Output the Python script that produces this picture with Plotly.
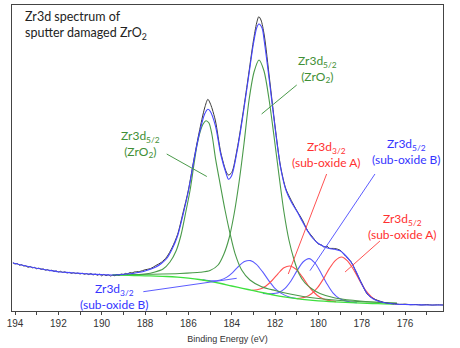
import plotly.graph_objects as go

# ---------------- data (binding energy in eV, intensity in arbitrary units) ----------------
raw_be = [194.1, 194.0, 193.9, 193.8, 193.7, 193.6, 193.5, 193.4, 193.3, 193.2, 193.1, 193.0,
          192.9, 192.8, 192.7, 192.6, 192.5, 192.4, 192.3, 192.2, 192.1, 192.0, 191.9, 191.8,
          191.7, 191.6, 191.5, 191.4, 191.3, 191.2, 191.1, 191.0, 190.9, 190.8, 190.7, 190.6,
          190.5, 190.4, 190.3, 190.2, 190.1, 190.0, 189.9, 189.8, 189.7, 189.6, 189.5, 189.4,
          189.3, 189.2, 189.1, 189.0, 188.9, 188.8, 188.7, 188.6, 188.5,
          188.25, 188.0, 187.75, 187.5, 187.25, 187.0, 186.75, 186.5, 186.25, 186.0, 185.75,
          185.5, 185.25, 185.1, 185.0, 184.9, 184.75, 184.5, 184.25, 184.15, 184.0, 183.75,
          183.5, 183.25, 183.0, 182.85, 182.75, 182.65, 182.5, 182.25, 182.0, 181.75, 181.5,
          181.25, 181.0, 180.75, 180.5, 180.25, 180.0, 179.85, 179.75, 179.6, 179.5, 179.25,
          179.0, 178.75, 178.5, 178.25, 178.0, 177.75, 177.5, 177.25, 177.0, 176.75, 176.5,
          176.25, 176.0, 175.75, 175.5, 175.25, 175.0, 174.75, 174.5, 174.25]
raw_int = [48.5, 47.0, 47.5, 45.8, 46.4, 45.0, 45.2, 43.7, 44.5, 43.2, 43.6, 42.2,
           42.9, 41.7, 42.1, 40.8, 41.4, 40.2, 40.8, 39.6, 40.1, 39.0, 39.7, 38.6,
           39.2, 38.0, 38.7, 37.6, 38.3, 37.4, 38.0, 37.0, 37.8, 36.7, 37.4, 36.4,
           37.5, 36.0, 37.0, 35.7, 36.8, 35.2, 36.6, 35.4, 36.2, 35.0, 35.8, 35.3,
           36.4, 35.9, 37.0, 36.5, 37.6, 37.2, 38.4, 38.0, 39.0,
           39.5, 41.2, 42.4, 45.5, 48.6, 54.0, 63.5, 76.5, 98, 121, 151,
           179, 203, 211.7, 208, 202, 190, 158, 139, 136, 138.5, 162,
           195, 232, 270, 288, 294.3, 291, 276, 231, 185, 145, 122,
           110.5, 100.5, 91.5, 80.5, 73.5, 67, 66, 64, 64.8, 62.8, 62.5,
           60.8, 55, 49.5, 38.5, 27.5, 17, 12.8, 10.5, 8.8, 7.6, 7.2,
           6.6, 6.9, 6.3, 6.5, 6.0, 6.4, 5.9, 6.2, 6.0]

env_be = [194.1, 193.5, 193.0, 192.5, 192.0, 191.5, 191.0, 190.5, 190.0, 189.75, 189.5, 189.25,
          189.0, 188.75, 188.5, 188.25, 188.0, 187.75, 187.5, 187.25, 187.0, 186.75, 186.5,
          186.25, 186.0, 185.75, 185.5, 185.25, 185.1, 185.0, 184.75, 184.5, 184.25, 184.15,
          184.0, 183.75, 183.5, 183.25, 183.0, 182.85, 182.75, 182.6, 182.5, 182.25, 182.0,
          181.75, 181.5, 181.25, 181.0, 180.75, 180.5, 180.25, 180.0, 179.75, 179.5, 179.25,
          179.0, 178.75, 178.5, 178.25, 178.0, 177.75, 177.5, 177.25, 177.0, 176.5, 176.0,
          175.5, 175.0, 174.5, 174.25]
env_int = [48, 45, 42.8, 41, 39.3, 38.4, 37.6, 36.9, 36.4, 36.1, 36.0, 36.2,
           36.7, 37.2, 37.7, 38.7, 40.0, 41.7, 44.0, 47.5, 52.5, 62, 75,
           96, 120, 150, 177, 197, 201.7, 200, 185, 156, 137, 131.7,
           135.5, 160, 193, 230, 267, 283, 287, 283, 270, 228, 183,
           144, 121, 109, 100, 90, 80, 72.5, 67.5, 64.5, 62.5, 61.7,
           60.2, 55.5, 49, 39, 27, 17.5, 12.5, 10, 8.5, 7, 6.5,
           6.2, 6, 6, 6]

bg_be = [189.5, 189.0, 188.5, 188.0, 187.5, 187.0, 186.5, 186.0, 185.5, 185.0, 184.5, 184.0,
         183.5, 183.0, 182.5, 182.0, 181.5, 181.0, 180.5, 180.0, 179.5, 179.0, 178.5, 178.0,
         177.5, 177.0, 176.5]
bg_int = [36.0, 35.8, 35.5, 35.2, 34.9, 34.5, 33.8, 32.8, 31.5, 29.7, 27.5, 25.0,
          22.7, 20.3, 18.0, 15.7, 13.8, 12.3, 11.1, 10.2, 9.5, 8.9, 8.4, 7.9,
          7.5, 7.2, 7.0]

zro2_52_be = [189.48, 187.77, 186.39, 185.46, 185.0, 184.63, 184.36, 184.12, 183.89, 183.66,
              183.43, 183.2, 182.97, 182.74, 182.51, 182.28, 182.05, 181.82, 181.59, 181.36,
              181.12, 180.89, 180.62, 180.29, 179.93, 179.23, 178.31, 177.16, 176.37]
zro2_52_int = [36, 36.7, 37.5, 38.7, 40.5, 46, 57, 73, 97, 129,
               168, 211, 239, 251, 240, 212, 175, 136, 99, 71,
               51, 37, 28, 22, 17.5, 13, 10.5, 8.5, 7.5]

zro2_32_be = [189.48, 188.69, 188.0, 187.54, 187.17, 186.85, 186.57, 186.34, 186.11, 185.92,
              185.74, 185.6, 185.46, 185.32, 185.19, 185.05, 184.91, 184.74, 184.54, 184.31,
              184.08, 183.85, 183.54, 183.16, 182.62, 182.0, 181.31, 180.39, 179.0, 177.62,
              176.37]
zro2_32_int = [36, 36.2, 37, 39, 42, 49, 60, 76, 100, 121,
               147, 166, 179, 187, 190.3, 188, 176, 151.3, 127.7, 101,
               77.7, 57.7, 41, 31, 24.3, 20.5, 17, 13.5, 10.5, 9,
               8]

subA_52_be = [181.01, 180.59, 180.32, 180.04, 179.76, 179.49, 179.21, 178.93, 178.66, 178.38,
              178.10, 177.83, 177.55, 177.27, 176.86, 176.42]
subA_52_int = [12.4, 14, 17.3, 23.4, 32.4, 42.6, 50.7, 54, 50.1, 41.5,
               30.6, 20.9, 14.2, 10.2, 7.7, 7.1]

subA_32_be = [183.06, 182.69, 182.42, 182.14, 181.86, 181.59, 181.31, 181.03, 180.76, 180.48,
              180.2, 179.93, 179.56, 179.19]
subA_32_int = [20.6, 21.9, 25, 30.5, 37.4, 43.2, 45, 41.8, 34.6, 25.7,
               18.5, 13.7, 10.6, 9.4]

subB_52_be = [182.56, 182.19, 181.82, 181.54, 181.26, 180.99, 180.71, 180.43, 180.16, 179.88,
              179.6, 179.33, 179.05, 178.68, 178.22]
subB_52_int = [17.5, 17.3, 18.6, 22.7, 30.3, 40.1, 49, 52.4, 48, 38.1,
               27, 18.1, 12.7, 9.6, 8.2]

subB_32_be = [185.35, 184.89, 184.52, 184.24, 183.96, 183.69, 183.41, 183.13, 182.86, 182.58,
              182.3, 182.03, 181.75, 181.38, 180.92]
subB_32_int = [31.1, 30.1, 31, 33.6, 38.4, 44.5, 49.4, 50.4, 46.7, 39.3,
               30.7, 23.2, 18.1, 14.3, 12.2]

tick_vals = [194, 192, 190, 188, 186, 184, 182, 180, 178, 176]
tick_text = ["194", "192", "190", "188", "186", "184", "182", "180", "178", "176"]

# ---------------- styling ----------------
C_RAW = "#3a3a3a"
C_ENV = "#4646ff"
C_ZRO2 = "#4a9a4a"
C_BG = "#3ee03e"
C_RED = "#ff5252"
C_BLUE = "#5c5cff"
T_GREEN = "#3f8f35"
T_RED = "#ff3030"
T_BLUE = "#3535ff"

fig = go.Figure()


def add_line(x, y, color, width=1.1):
    fig.add_trace(go.Scatter(x=x, y=y, mode="lines",
                             line=dict(color=color, width=width, shape="spline", smoothing=0.8),
                             hoverinfo="skip", showlegend=False))


add_line(subB_32_be, subB_32_int, C_BLUE)
add_line(subB_52_be, subB_52_int, C_BLUE)
add_line(subA_32_be, subA_32_int, C_RED)
add_line(subA_52_be, subA_52_int, C_RED)
add_line(zro2_32_be, zro2_32_int, C_ZRO2)
add_line(zro2_52_be, zro2_52_int, C_ZRO2)
add_line(bg_be, bg_int, C_BG, 1.3)
add_line(raw_be, raw_int, C_RAW, 1.0)
add_line(env_be, env_int, C_ENV, 1.1)

LBL_FONT = "Lato, Carlito, 'Open Sans', sans-serif"

labels = [
    (188.19, 167, "Zr3d<sub>5/2</sub><br>(ZrO<sub>2</sub>)", T_GREEN),
    (180.05, 242.4, "Zr3d<sub>5/2</sub><br>(ZrO<sub>2</sub>)", T_GREEN),
    (179.62, 156.5, "Zr3d<sub>3/2</sub><br>(sub-oxide A)", T_RED),
    (175.92, 160.0, "Zr3d<sub>5/2</sub><br>(sub-oxide B)", T_BLUE),
    (176.12, 85.0, "Zr3d<sub>5/2</sub><br>(sub-oxide A)", T_RED),
    (189.43, 15.0, "Zr3d<sub>3/2</sub><br>(sub-oxide B)", T_BLUE),
]
for lx, ly, txt, col in labels:
    fig.add_annotation(x=lx, y=ly, xref="x", yref="y", text=txt, showarrow=False,
                       align="center", xanchor="center", yanchor="middle",
                       font=dict(family=LBL_FONT, size=12, color=col))

pointers = [
    (187.0, 157.0, 185.15, 134.5, C_ZRO2),
    (181.0, 226.0, 182.62, 197.0, C_ZRO2),
    (179.62, 137.0, 181.39, 37.0, C_RED),
    (177.39, 137.0, 180.39, 40.3, C_BLUE),
    (177.16, 70.0, 178.77, 39.0, C_RED),
    (188.08, 19.3, 183.77, 32.7, C_BLUE),
]
for x0, y0, x1, y1, col in pointers:
    fig.add_shape(type="line", xref="x", yref="y", x0=x0, y0=y0, x1=x1, y1=y1,
                  line=dict(color=col, width=1))

fig.add_annotation(xref="paper", yref="paper", x=0.025, y=0.995, xanchor="left", yanchor="top",
                   text="Zr3d spectrum of<br>sputter damaged ZrO<sub>2</sub>", showarrow=False,
                   align="left", font=dict(family=LBL_FONT, size=12.5, color="#222222"))

fig.update_xaxes(range=[194.14, 174.25], showline=True, mirror=True, linecolor="#444444",
                 linewidth=1, showgrid=False, zeroline=False,
                 tickmode="array", tickvals=tick_vals, ticktext=tick_text,
                 ticks="outside", ticklen=3, tickwidth=1, tickcolor="#444444",
                 minor=dict(dtick=1, ticks="outside", ticklen=3, tickwidth=1, tickcolor="#444444"),
                 tickfont=dict(family="Liberation Sans Narrow, Arial Narrow, Liberation Sans, sans-serif",
                               size=10, color="#333333"),
                 title=dict(text="Binding Energy (eV)", standoff=7,
                            font=dict(family="Liberation Sans, Arial, sans-serif", size=9, color="#333333")))
fig.update_yaxes(range=[0, 306], showline=True, mirror=True, linecolor="#444444", linewidth=1,
                 showgrid=False, zeroline=False, showticklabels=False, ticks="")

fig.update_layout(width=460, height=348, margin=dict(l=12, r=17, t=5, b=37),
                  plot_bgcolor="white", paper_bgcolor="white", showlegend=False)

fig.write_html("out.html")
